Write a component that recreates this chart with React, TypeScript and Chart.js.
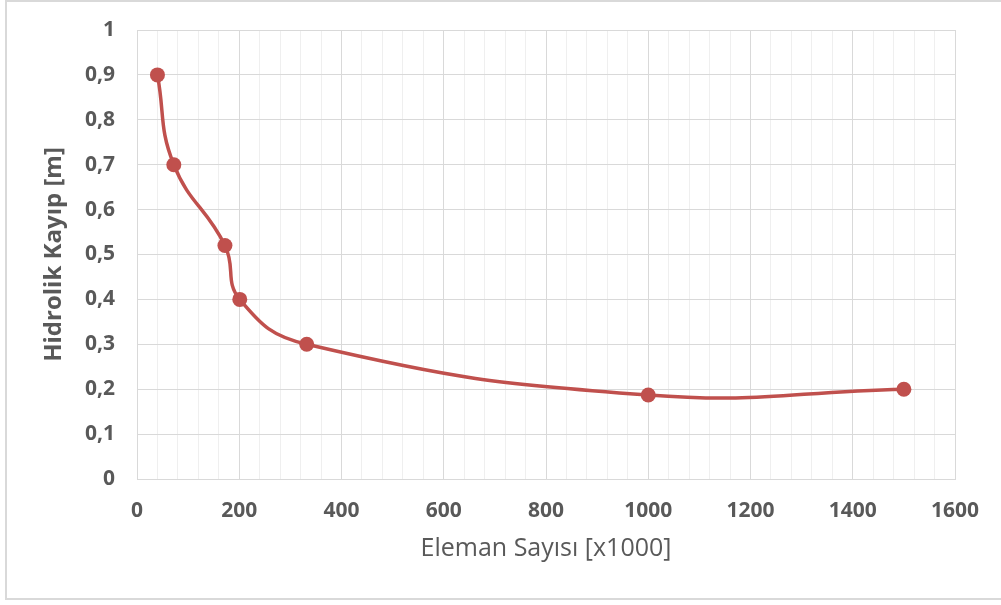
import React, { useEffect, useRef } from "react";
import { Chart, registerables } from "chart.js";

Chart.register(...registerables);

// Mesh size (thousands of elements) vs. hydraulic loss
const elementCounts = [40, 72, 172, 201, 332, 1000, 1500];
const hydraulicLoss = [0.9, 0.7, 0.52, 0.4, 0.3, 0.187, 0.2];

const xMajorStep = 200;
const xMinorStep = 40;
const xMax = 1600;
const yStep = 0.1;
const yMax = 1;

const xTitle = "Eleman Sayısı [x1000]";
const yTitle = "Hidrolik Kayıp [m]";

const FONT = "'Open Sans', 'Liberation Sans', sans-serif";
const TEXT = "#595959";
const LINE = "#c0504d";

export default function App() {
  const canvasRef = useRef<HTMLCanvasElement | null>(null);

  useEffect(() => {
    if (!canvasRef.current) return;
    const chart = new Chart(canvasRef.current, {
      type: "line",
      data: {
        datasets: [
          {
            data: elementCounts.map((x, i) => ({ x, y: hydraulicLoss[i] })),
            borderColor: LINE,
            backgroundColor: LINE,
            borderWidth: 3.5,
            pointRadius: 7.5,
            pointHoverRadius: 7.5,
            pointBackgroundColor: LINE,
            pointBorderColor: LINE,
            pointBorderWidth: 0,
            tension: 0.45,
          },
        ],
      },
      options: {
        animation: false,
        responsive: false,
        layout: { padding: { left: 40, right: 46, top: 30, bottom: 41 } },
        plugins: { legend: { display: false }, tooltip: { enabled: false } },
        scales: {
          x: {
            type: "linear",
            min: 0,
            max: xMax,
            border: { display: true, color: "#d9d9d9", width: 1 },
            grid: {
              drawTicks: false,
              color: (ctx: any) =>
                ctx.tick && ctx.tick.value % xMajorStep === 0 ? "#d9d9d9" : "#efefef",
              lineWidth: 1,
            },
            ticks: {
              stepSize: xMinorStep,
              autoSkip: false,
              maxRotation: 0,
              padding: 19,
              color: TEXT,
              font: { family: FONT, size: 21, weight: "bold" },
              callback: (v: any) => (Number(v) % xMajorStep === 0 ? String(v) : ""),
            },
            title: {
              display: true,
              text: xTitle,
              color: TEXT,
              font: { family: FONT, size: 25 },
              padding: { top: 0, bottom: 0 },
            },
            afterFit: (s: any) => {
              s.height = 85;
              s.paddingLeft = 0;
              s.paddingRight = 0;
            },
          },
          y: {
            type: "linear",
            min: 0,
            max: yMax,
            border: { display: true, color: "#d9d9d9", width: 1 },
            grid: { drawTicks: false, color: "#d9d9d9", lineWidth: 1 },
            ticks: {
              stepSize: yStep,
              padding: 22,
              color: TEXT,
              font: { family: FONT, size: 21, weight: "bold" },
              callback: (v: any) => {
                const n = Math.round(Number(v) * 10) / 10;
                return n === 0 || n === 1 ? String(n) : n.toFixed(1).replace(".", ",");
              },
            },
            title: {
              display: true,
              text: yTitle,
              color: TEXT,
              font: { family: FONT, size: 24, weight: "bold" },
              padding: { top: 0, bottom: 0 },
            },
            afterFit: (s: any) => {
              s.width = 97;
              s.paddingTop = 0;
              s.paddingBottom = 0;
            },
          },
        },
      },
    });
    return () => chart.destroy();
  }, []);

  return (
    <div style={{ position: "absolute", left: 0, top: 0, width: 1001, height: 605, background: "#fff" }}>
      <div
        style={{
          position: "absolute",
          left: 5,
          top: 0,
          width: 1000,
          height: 600,
          borderLeft: "2px solid #d9d9d9",
          borderTop: "2px solid #d9d9d9",
          borderBottom: "2px solid #d9d9d9",
          boxSizing: "border-box",
        }}
      />
      <canvas
        ref={canvasRef}
        width={1001}
        height={605}
        style={{ position: "absolute", left: 0, top: 0 }}
      />
    </div>
  );
}
